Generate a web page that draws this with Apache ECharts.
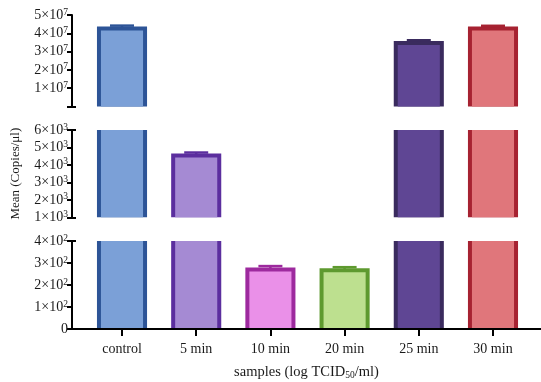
<!DOCTYPE html>
<html><head><meta charset="utf-8">
<script src="https://cdn.jsdelivr.net/npm/echarts@6/dist/echarts.min.js"></script>
<style>html,body{margin:0;padding:0;background:#fff}#c{width:541px;height:382px}</style>
</head><body><div id="c"></div>
<script>
// ---- data ----
const categories = ['control', '5 min', '10 min', '20 min', '25 min', '30 min'];
const means = [4.37e7, 4660, 280, 276, 3.58e7, 4.37e7];
const sds = [5e5, 50, 6, 5, 4e5, 4e5];
const fillColors = ['#7ba0d7', '#a58ad3', '#ea90e8', '#bde08f', '#5f4694', '#e0767b'];
const borderColors = ['#2d5497', '#5b2e9e', '#9d2a9e', '#5e9a2f', '#3a2b5e', '#a62231'];
// broken y axis segments: top, middle, bottom
const segMins = [0, 1000, 0];
const segMaxs = [5e7, 6000, 400];
const segSteps = [1e7, 1000, 100];
const segExps = ['7', '3', '2'];
const segEndTicks = [[0], [1000, 6000], [400]];
const xTickValues = [0, 1, 2, 3, 4, 5];

const FONT = '"Liberation Serif", "DejaVu Serif", serif';
const TXT = '#1a1a1a';
const grids = [
  { left: 72, right: 0, top: 15, height: 91.5 },
  { left: 72, right: 0, top: 130, height: 87.3 },
  { left: 72, right: 0, top: 241, height: 88 }
];
const xMin = -0.674, xMax = 5.647;

const rich = {
  n: { fontSize: 14, fontFamily: FONT, color: TXT, lineHeight: 16 },
  s: { fontSize: 9.5, fontFamily: FONT, color: TXT, verticalAlign: 'top', lineHeight: 10 }
};

const xAxes = grids.map((g, k) => {
  const base = { type: 'value', gridIndex: k, min: xMin, max: xMax, splitLine: { show: false } };
  if (k < 2) return Object.assign(base, { show: false });
  return Object.assign(base, {
    z: 5,
    axisLine: { show: true, onZero: false, lineStyle: { color: '#000', width: 2 } },
    axisTick: { show: true, customValues: xTickValues, length: 7, lineStyle: { color: '#000', width: 2 } },
    axisLabel: { show: true, customValues: xTickValues, margin: 13, color: TXT, fontSize: 14, fontFamily: FONT,
      formatter: v => categories[Math.round(v)] },
    name: '{n|samples (log TCID}{b|50}{n|/ml)}',
    nameLocation: 'middle',
    nameGap: 35,
    nameTextStyle: { rich: {
      n: { fontSize: 14.5, fontFamily: FONT, color: TXT, lineHeight: 16 },
      b: { fontSize: 9.5, fontFamily: FONT, color: TXT, verticalAlign: 'bottom', lineHeight: 8 }
    } }
  });
});

const yAxes = [];
grids.forEach((g, k) => {
  yAxes.push({
    type: 'value', gridIndex: k, min: segMins[k], max: segMaxs[k], interval: segSteps[k],
    z: 5,
    splitLine: { show: false },
    axisLine: { show: true, onZero: false, lineStyle: { color: '#000', width: 2 } },
    axisTick: { show: true, length: 5, lineStyle: { color: '#000', width: 2 } },
    axisLabel: { show: true, margin: 4, rich: rich,
      formatter: v => {
        if (v === 0) return k === 2 ? '{n|0}' : '';
        return '{n|' + Math.round(v / segSteps[k]) + '×10}{s|' + segExps[k] + '}';
      } },
    name: k === 1 ? 'Mean (Copies/μl)' : '',
    nameLocation: 'middle',
    nameGap: 50,
    nameTextStyle: { fontSize: 13, fontFamily: FONT, color: TXT }
  });
  yAxes.push({
    type: 'value', gridIndex: k, min: segMins[k], max: segMaxs[k], interval: segSteps[k],
    position: 'left', z: 5,
    splitLine: { show: false },
    axisLine: { show: false, onZero: false },
    axisLabel: { show: false },
    axisTick: { show: true, inside: true, length: 4, customValues: segEndTicks[k], lineStyle: { color: '#000', width: 2 } }
  });
});

function makeSeries(k) {
  // a bar shows in a segment only if it rises above the segment below it
  const floor = k < 2 ? segMaxs[k + 1] : segMins[k];
  return {
    type: 'custom',
    xAxisIndex: k,
    yAxisIndex: k * 2,
    clip: false,
    data: means.map((m, i) => [i, m, sds[i]]),
    encode: { x: 0, y: 1 },
    renderItem: function (params, api) {
      const i = api.value(0), m = api.value(1), sd = api.value(2);
      if (m <= floor) return null;
      const topVal = Math.min(m, segMaxs[k]);
      const hasTop = m <= segMaxs[k];
      const pTop = api.coord([i, topVal]);
      const pBot = api.coord([i, segMins[k]]);
      const w = api.size([1, 0])[0] * 0.675;
      const bw = 4;
      const x0 = pTop[0] - w / 2;
      const h = pBot[1] - pTop[1];
      const children = [
        { type: 'rect', shape: { x: x0, y: pTop[1], width: w, height: h }, style: { fill: borderColors[i] } },
        { type: 'rect', shape: { x: x0 + bw, y: pTop[1] + (hasTop ? bw : 0), width: w - 2 * bw, height: h - (hasTop ? bw : 0) },
          style: { fill: fillColors[i] } }
      ];
      if (hasTop) {
        const pe = api.coord([i, m + sd]);
        children.push(
          { type: 'line', shape: { x1: pTop[0], y1: pe[1], x2: pTop[0], y2: pTop[1] + 1 }, style: { stroke: borderColors[i], lineWidth: 2.5 } },
          { type: 'line', shape: { x1: pTop[0] - 12, y1: pe[1], x2: pTop[0] + 12, y2: pe[1] }, style: { stroke: borderColors[i], lineWidth: 2.5 } }
        );
      }
      return { type: 'group', children: children };
    }
  };
}

const chart = echarts.init(document.getElementById('c'), null, { renderer: 'canvas' });
chart.setOption({
  animation: false,
  backgroundColor: '#fff',
  grid: grids,
  xAxis: xAxes,
  yAxis: yAxes,
  series: [makeSeries(0), makeSeries(1), makeSeries(2)]
});
</script>
</body></html>
